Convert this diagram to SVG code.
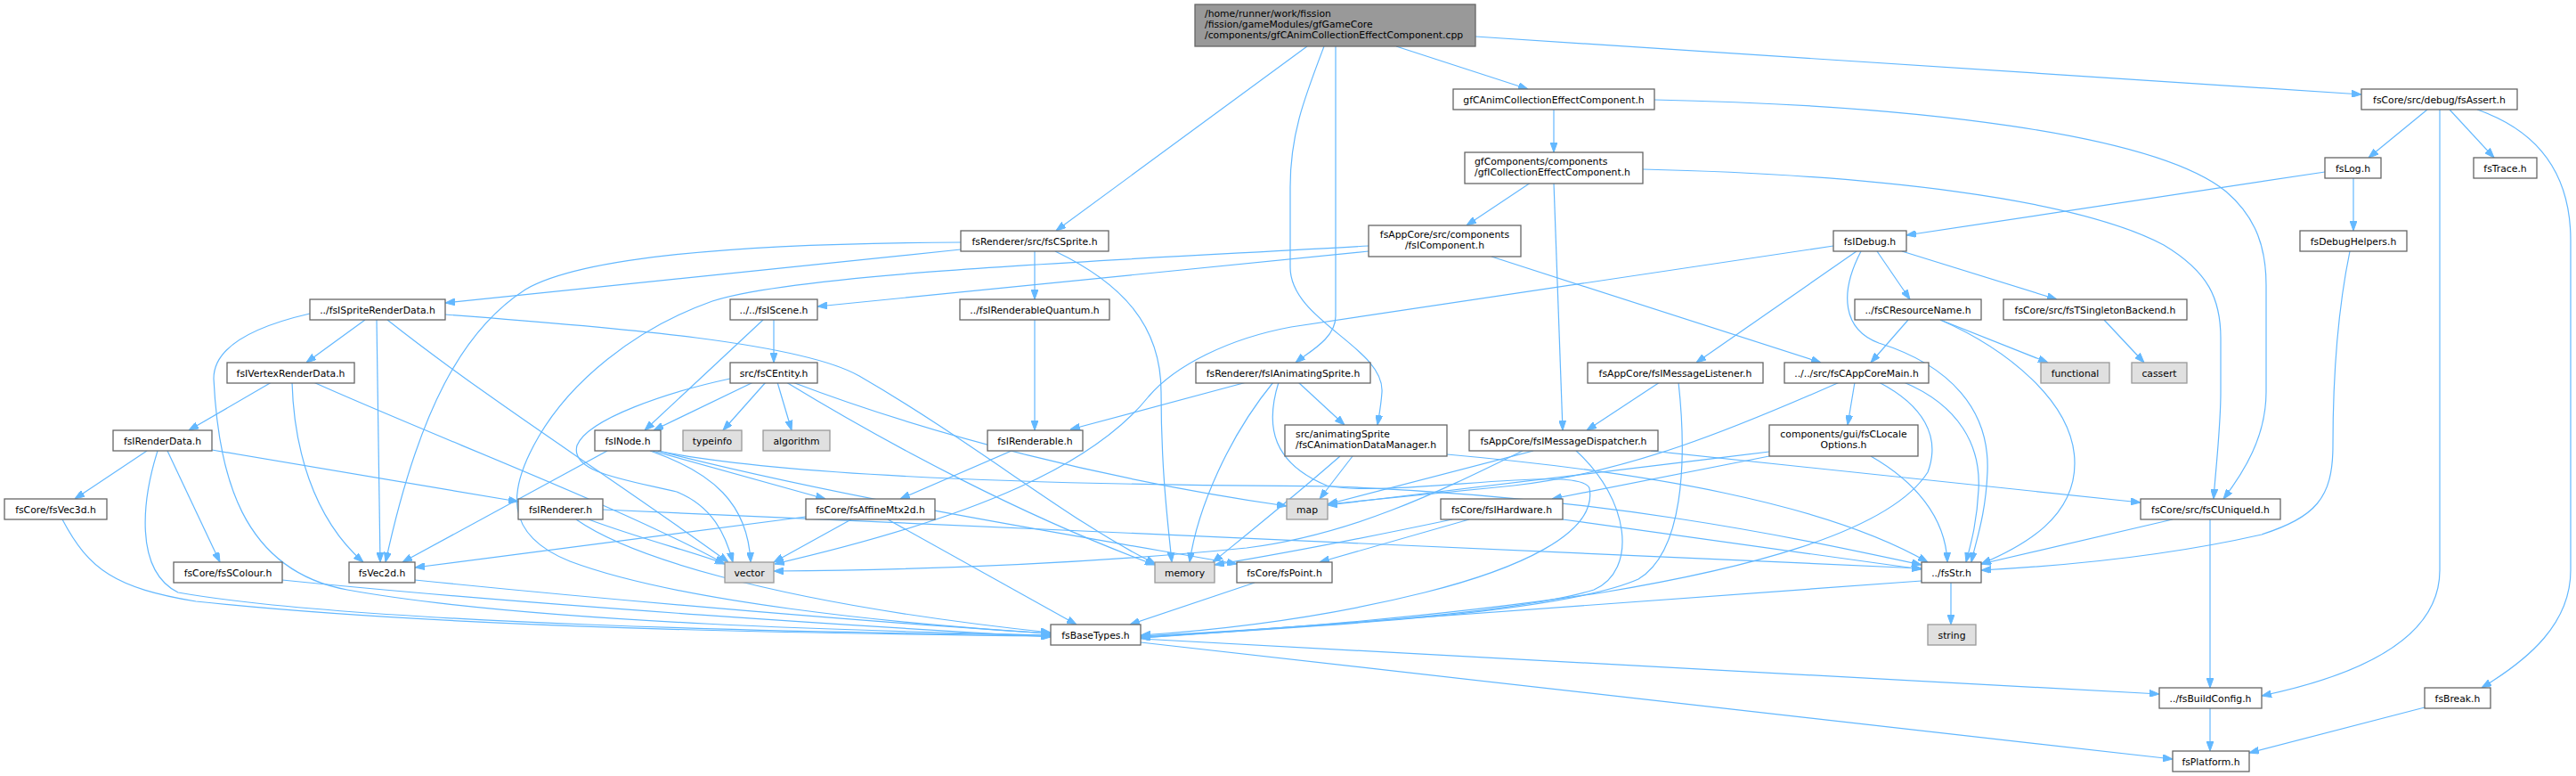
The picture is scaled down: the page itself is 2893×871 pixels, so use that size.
<svg xmlns="http://www.w3.org/2000/svg" width="2893" height="871" viewBox="0 0 2893 871">
<style>
.e{fill:none;stroke:#63b8ff;stroke-width:1.2;marker-end:url(#a)}
.n rect{fill:#ffffff;stroke:#666666;stroke-width:1.3}
.s rect{fill:#e0e0e0;stroke:#999999;stroke-width:1.3}
.r rect{fill:#999999;stroke:#666666;stroke-width:1.3}
text{font-family:"DejaVu Sans","Liberation Sans",sans-serif;font-size:10.8px;fill:#000000}
.c{text-anchor:middle}
</style>
<defs>
<marker id="a" viewBox="0 0 11 8" refX="11" refY="4" markerWidth="11" markerHeight="8" markerUnits="userSpaceOnUse" orient="auto"><path d="M0,0 L11,4 L0,8 z" fill="#63b8ff" stroke="#63b8ff"/></marker>
</defs>
<rect width="2893" height="871" fill="#ffffff"/>
<g id="edges">
<path class="e" d="M1468,52 L1186,259"/>
<path class="e" d="M1568,52 L1716,100"/>
<path class="e" d="M1657,41 L2652,106"/>
<path class="e" d="M1500,52 L1500,355 C1500,380 1470,395 1455,407"/>
<path class="e" d="M1487,52 C1465,110 1449,150 1449,210 L1449,300 C1449,360 1555,390 1552,440 C1551,455 1549,465 1547,477"/>
<path class="e" d="M1745,123 L1745,171"/>
<path class="e" d="M1858,112 C2150,118 2420,150 2500,215 C2535,245 2545,280 2545,320 L2545,440 C2545,490 2520,530 2497,560"/>
<path class="e" d="M1719,205 L1647,253"/>
<path class="e" d="M1745,205 L1755,483"/>
<path class="e" d="M1845,190 C2100,196 2330,222 2430,275 C2480,305 2494,335 2494,380 L2494,440 C2494,480 2488,530 2486,560"/>
<path class="e" d="M1537,282 L918,344"/>
<path class="e" d="M1537,276 C1300,290 900,305 800,338 C710,370 640,430 605,490 C570,550 565,600 640,630 C760,675 1000,700 1180,711"/>
<path class="e" d="M1675,288 L2045,407"/>
<path class="e" d="M1079,280 L500,340"/>
<path class="e" d="M1162,282 L1162,336"/>
<path class="e" d="M1079,272 C820,273 650,290 590,325 C520,370 470,460 433,631"/>
<path class="e" d="M1185,282 C1260,318 1304,365 1304,440 C1304,530 1312,590 1316,631"/>
<path class="e" d="M410,359 L344,407"/>
<path class="e" d="M423,359 L427,631"/>
<path class="e" d="M435,359 C550,450 700,545 818,631"/>
<path class="e" d="M500,353 C700,368 900,385 965,422 C1100,500 1200,585 1298,633"/>
<path class="e" d="M348,352 C270,370 240,395 240,425 C245,530 270,640 390,662 C600,700 1000,709 1180,713"/>
<path class="e" d="M305,429 L212,483"/>
<path class="e" d="M328,429 C330,500 350,580 408,631"/>
<path class="e" d="M352,429 C500,495 700,570 814,633"/>
<path class="e" d="M165,506 L84,560"/>
<path class="e" d="M188,506 L247,631"/>
<path class="e" d="M238,505 L582,563"/>
<path class="e" d="M177,506 C160,560 150,640 200,665 C400,700 900,710 1180,713"/>
<path class="e" d="M70,583 C100,640 130,660 220,675 C500,705 900,711 1180,714"/>
<path class="e" d="M317,651 C600,680 1000,705 1180,715"/>
<path class="e" d="M466,651 C700,675 1000,700 1180,711"/>
<path class="e" d="M647,583 C700,620 850,675 1180,710"/>
<path class="e" d="M661,583 C720,605 780,620 814,633"/>
<path class="e" d="M677,572 C1000,590 1500,610 2158,638"/>
<path class="e" d="M869,359 L869,407"/>
<path class="e" d="M857,359 L724,483"/>
<path class="e" d="M846,429 L734,483"/>
<path class="e" d="M860,429 L812,483"/>
<path class="e" d="M873,429 L889,483"/>
<path class="e" d="M883,429 C1000,500 1150,580 1297,634"/>
<path class="e" d="M890,429 C1050,490 1250,540 1445,568"/>
<path class="e" d="M820,425 C750,440 660,470 648,500 C640,530 700,538 760,552 C800,568 815,600 823,631"/>
<path class="e" d="M682,506 L452,631"/>
<path class="e" d="M733,506 L927,560"/>
<path class="e" d="M730,506 C800,530 840,565 843,631"/>
<path class="e" d="M739,506 C950,560 1200,600 1389,633"/>
<path class="e" d="M739,506 C900,540 1300,545 1500,546 C1800,558 2000,600 2158,634"/>
<path class="e" d="M1162,359 L1162,483"/>
<path class="e" d="M1136,506 L1011,560"/>
<path class="e" d="M956,583 L869,631"/>
<path class="e" d="M905,580 L466,637"/>
<path class="e" d="M997,583 L1209,701"/>
<path class="e" d="M1400,429 L1202,482"/>
<path class="e" d="M1458,429 L1510,477"/>
<path class="e" d="M1430,429 C1380,490 1345,570 1336,631"/>
<path class="e" d="M1436,429 C1420,480 1430,520 1490,545 C1560,560 1775,520 1785,548 C1795,600 1700,640 1600,665 C1500,690 1400,705 1281,713"/>
<path class="e" d="M1519,512 L1482,560"/>
<path class="e" d="M1505,512 C1450,560 1400,600 1362,631"/>
<path class="e" d="M1625,510 C1850,530 2050,565 2165,631"/>
<path class="e" d="M1722,506 L1491,566"/>
<path class="e" d="M1710,506 C1620,550 1520,600 1400,615 C1200,635 1000,640 869,641"/>
<path class="e" d="M1770,506 C1830,560 1840,640 1790,662 C1700,690 1450,705 1281,714"/>
<path class="e" d="M1854,506 L2404,564"/>
<path class="e" d="M1864,429 L1782,483"/>
<path class="e" d="M1885,429 C1895,520 1890,620 1840,650 C1750,690 1450,705 1281,715"/>
<path class="e" d="M2066,429 C1950,480 1830,530 1700,545 C1600,555 1530,562 1491,566"/>
<path class="e" d="M2083,429 L2075,477"/>
<path class="e" d="M2138,429 C2200,455 2225,500 2222,550 C2220,590 2212,615 2208,631"/>
<path class="e" d="M2110,429 C2160,455 2180,490 2165,530 C2120,600 1950,640 1800,665 C1600,695 1400,708 1281,716"/>
<path class="e" d="M1987,507 C1800,530 1600,555 1491,567"/>
<path class="e" d="M1987,512 L1743,560"/>
<path class="e" d="M2101,512 C2150,540 2185,580 2187,631"/>
<path class="e" d="M1631,583 C1550,600 1450,620 1364,634"/>
<path class="e" d="M1650,583 L1482,631"/>
<path class="e" d="M1755,583 L2158,639"/>
<path class="e" d="M1409,654 L1269,701"/>
<path class="e" d="M2440,583 L2225,633"/>
<path class="e" d="M2482,583 L2482,772"/>
<path class="e" d="M2191,654 L2191,701"/>
<path class="e" d="M2158,652 L1281,716"/>
<path class="e" d="M1281,717 L2425,779"/>
<path class="e" d="M1281,721 L2440,852"/>
<path class="e" d="M2482,795 L2482,843"/>
<path class="e" d="M2723,794 L2526,845"/>
<path class="e" d="M2726,123 L2660,177"/>
<path class="e" d="M2751,123 L2801,177"/>
<path class="e" d="M2740,123 L2740,640 C2740,720 2640,760 2540,781"/>
<path class="e" d="M2782,123 C2860,150 2887,205 2887,270 L2887,640 C2887,700 2840,740 2787,772"/>
<path class="e" d="M2611,193 L2141,264"/>
<path class="e" d="M2643,200 L2643,259"/>
<path class="e" d="M2639,282 C2625,350 2620,420 2620,500 C2620,560 2600,580 2540,600 C2430,625 2320,635 2225,640"/>
<path class="e" d="M2108,282 L2145,336"/>
<path class="e" d="M2136,282 L2310,336"/>
<path class="e" d="M2085,282 L1905,407"/>
<path class="e" d="M2090,282 C2065,330 2070,370 2110,385 C2190,410 2235,460 2232,530 C2230,580 2218,610 2214,631"/>
<path class="e" d="M2059,276 L1450,367 C1380,380 1320,410 1290,445 C1230,520 1100,580 870,633"/>
<path class="e" d="M2143,359 L2101,407"/>
<path class="e" d="M2179,359 L2300,407"/>
<path class="e" d="M2179,359 C2250,390 2330,450 2330,520 C2330,580 2275,612 2225,633"/>
<path class="e" d="M2363,359 L2408,407"/>
</g>
<g id="root" class="r"><rect x="1342" y="5" width="315" height="47"/><text x="1353" y="19">/home/runner/work/fission</text><text x="1353" y="31">/fission/gameModules/gfGameCore</text><text x="1353" y="43">/components/gfCAnimCollectionEffectComponent.cpp</text></g>
<g id="gfCAnimH" class="n"><rect x="1632" y="100" width="226" height="23"/><text class="c" x="1745" y="115.5">gfCAnimCollectionEffectComponent.h</text></g>
<g id="fsAssert" class="n"><rect x="2652" y="100" width="175" height="23"/><text class="c" x="2739.5" y="115.5">fsCore/src/debug/fsAssert.h</text></g>
<g id="gfICollection" class="n"><rect x="1645" y="171" width="200" height="35"/><text x="1656" y="185">gfComponents/components</text><text x="1656" y="197">/gfICollectionEffectComponent.h</text></g>
<g id="fsLog" class="n"><rect x="2611" y="177" width="63" height="23"/><text class="c" x="2642.5" y="192.5">fsLog.h</text></g>
<g id="fsTrace" class="n"><rect x="2778" y="177" width="71" height="23"/><text class="c" x="2813.5" y="192.5">fsTrace.h</text></g>
<g id="fsCSprite" class="n"><rect x="1079" y="259" width="166" height="23"/><text class="c" x="1162" y="274.5">fsRenderer/src/fsCSprite.h</text></g>
<g id="fsIComponent" class="n"><rect x="1537" y="253" width="171" height="35"/><text class="c" x="1622.5" y="267">fsAppCore/src/components</text><text class="c" x="1622.5" y="279">/fsIComponent.h</text></g>
<g id="fsIDebug" class="n"><rect x="2059" y="259" width="82" height="23"/><text class="c" x="2100" y="274.5">fsIDebug.h</text></g>
<g id="fsDebugHelpers" class="n"><rect x="2583" y="259" width="120" height="23"/><text class="c" x="2643" y="274.5">fsDebugHelpers.h</text></g>
<g id="fsISpriteRenderData" class="n"><rect x="348" y="336" width="152" height="23"/><text class="c" x="424" y="351.5">../fsISpriteRenderData.h</text></g>
<g id="fsIScene" class="n"><rect x="820" y="336" width="98" height="23"/><text class="c" x="869" y="351.5">../../fsIScene.h</text></g>
<g id="fsIRenderableQuantum" class="n"><rect x="1078" y="336" width="168" height="23"/><text class="c" x="1162" y="351.5">../fsIRenderableQuantum.h</text></g>
<g id="fsCResourceName" class="n"><rect x="2083" y="336" width="142" height="23"/><text class="c" x="2154" y="351.5">../fsCResourceName.h</text></g>
<g id="fsTSingletonBackend" class="n"><rect x="2250" y="336" width="206" height="23"/><text class="c" x="2353" y="351.5">fsCore/src/fsTSingletonBackend.h</text></g>
<g id="fsIVertexRenderData" class="n"><rect x="255" y="407" width="143" height="23"/><text class="c" x="326.5" y="422.5">fsIVertexRenderData.h</text></g>
<g id="fsCEntity" class="n"><rect x="820" y="407" width="98" height="23"/><text class="c" x="869" y="422.5">src/fsCEntity.h</text></g>
<g id="fsIAnimatingSprite" class="n"><rect x="1343" y="407" width="196" height="23"/><text class="c" x="1441" y="422.5">fsRenderer/fsIAnimatingSprite.h</text></g>
<g id="fsIMessageListener" class="n"><rect x="1783" y="407" width="197" height="23"/><text class="c" x="1881.5" y="422.5">fsAppCore/fsIMessageListener.h</text></g>
<g id="fsCAppCoreMain" class="n"><rect x="2004" y="407" width="162" height="23"/><text class="c" x="2085" y="422.5">../../src/fsCAppCoreMain.h</text></g>
<g id="functional" class="s"><rect x="2292" y="407" width="77" height="23"/><text class="c" x="2330.5" y="422.5">functional</text></g>
<g id="cassert" class="s"><rect x="2394" y="407" width="62" height="23"/><text class="c" x="2425" y="422.5">cassert</text></g>
<g id="fsIRenderData" class="n"><rect x="127" y="483" width="111" height="23"/><text class="c" x="182.5" y="498.5">fsIRenderData.h</text></g>
<g id="fsINode" class="n"><rect x="668" y="483" width="74" height="23"/><text class="c" x="705" y="498.5">fsINode.h</text></g>
<g id="typeinfo" class="s"><rect x="767" y="483" width="66" height="23"/><text class="c" x="800" y="498.5">typeinfo</text></g>
<g id="algorithm" class="s"><rect x="857" y="483" width="75" height="23"/><text class="c" x="894.5" y="498.5">algorithm</text></g>
<g id="fsIRenderable" class="n"><rect x="1109" y="483" width="107" height="23"/><text class="c" x="1162.5" y="498.5">fsIRenderable.h</text></g>
<g id="fsCAnimationDataManager" class="n"><rect x="1443" y="477" width="182" height="35"/><text x="1455" y="491">src/animatingSprite</text><text x="1455" y="503">/fsCAnimationDataManager.h</text></g>
<g id="fsIMessageDispatcher" class="n"><rect x="1650" y="483" width="212" height="23"/><text class="c" x="1756" y="498.5">fsAppCore/fsIMessageDispatcher.h</text></g>
<g id="fsCLocaleOptions" class="n"><rect x="1987" y="477" width="167" height="35"/><text class="c" x="2070.5" y="491">components/gui/fsCLocale</text><text class="c" x="2070.5" y="503">Options.h</text></g>
<g id="fsVec3d" class="n"><rect x="5" y="560" width="115" height="23"/><text class="c" x="62.5" y="575.5">fsCore/fsVec3d.h</text></g>
<g id="fsIRenderer" class="n"><rect x="582" y="560" width="95" height="23"/><text class="c" x="629.5" y="575.5">fsIRenderer.h</text></g>
<g id="fsAffineMtx2d" class="n"><rect x="905" y="560" width="145" height="23"/><text class="c" x="977.5" y="575.5">fsCore/fsAffineMtx2d.h</text></g>
<g id="map" class="s"><rect x="1445" y="560" width="46" height="23"/><text class="c" x="1468" y="575.5">map</text></g>
<g id="fsIHardware" class="n"><rect x="1618" y="560" width="137" height="23"/><text class="c" x="1686.5" y="575.5">fsCore/fsIHardware.h</text></g>
<g id="fsCUniqueId" class="n"><rect x="2404" y="560" width="157" height="23"/><text class="c" x="2482.5" y="575.5">fsCore/src/fsCUniqueId.h</text></g>
<g id="fsSColour" class="n"><rect x="195" y="631" width="122" height="23"/><text class="c" x="256" y="646.5">fsCore/fsSColour.h</text></g>
<g id="fsVec2d" class="n"><rect x="392" y="631" width="74" height="23"/><text class="c" x="429" y="646.5">fsVec2d.h</text></g>
<g id="vector" class="s"><rect x="814" y="631" width="55" height="23"/><text class="c" x="841.5" y="646.5">vector</text></g>
<g id="memory" class="s"><rect x="1297" y="631" width="67" height="23"/><text class="c" x="1330.5" y="646.5">memory</text></g>
<g id="fsPoint" class="n"><rect x="1389" y="631" width="107" height="23"/><text class="c" x="1442.5" y="646.5">fsCore/fsPoint.h</text></g>
<g id="fsStr" class="n"><rect x="2158" y="631" width="67" height="23"/><text class="c" x="2191.5" y="646.5">../fsStr.h</text></g>
<g id="fsBaseTypes" class="n"><rect x="1180" y="701" width="101" height="23"/><text class="c" x="1230.5" y="716.5">fsBaseTypes.h</text></g>
<g id="string" class="s"><rect x="2165" y="701" width="54" height="23"/><text class="c" x="2192" y="716.5">string</text></g>
<g id="fsBuildConfig" class="n"><rect x="2425" y="772" width="115" height="23"/><text class="c" x="2482.5" y="787.5">../fsBuildConfig.h</text></g>
<g id="fsBreak" class="n"><rect x="2723" y="772" width="74" height="23"/><text class="c" x="2760" y="787.5">fsBreak.h</text></g>
<g id="fsPlatform" class="n"><rect x="2440" y="843" width="86" height="23"/><text class="c" x="2483" y="858.5">fsPlatform.h</text></g>
</svg>
